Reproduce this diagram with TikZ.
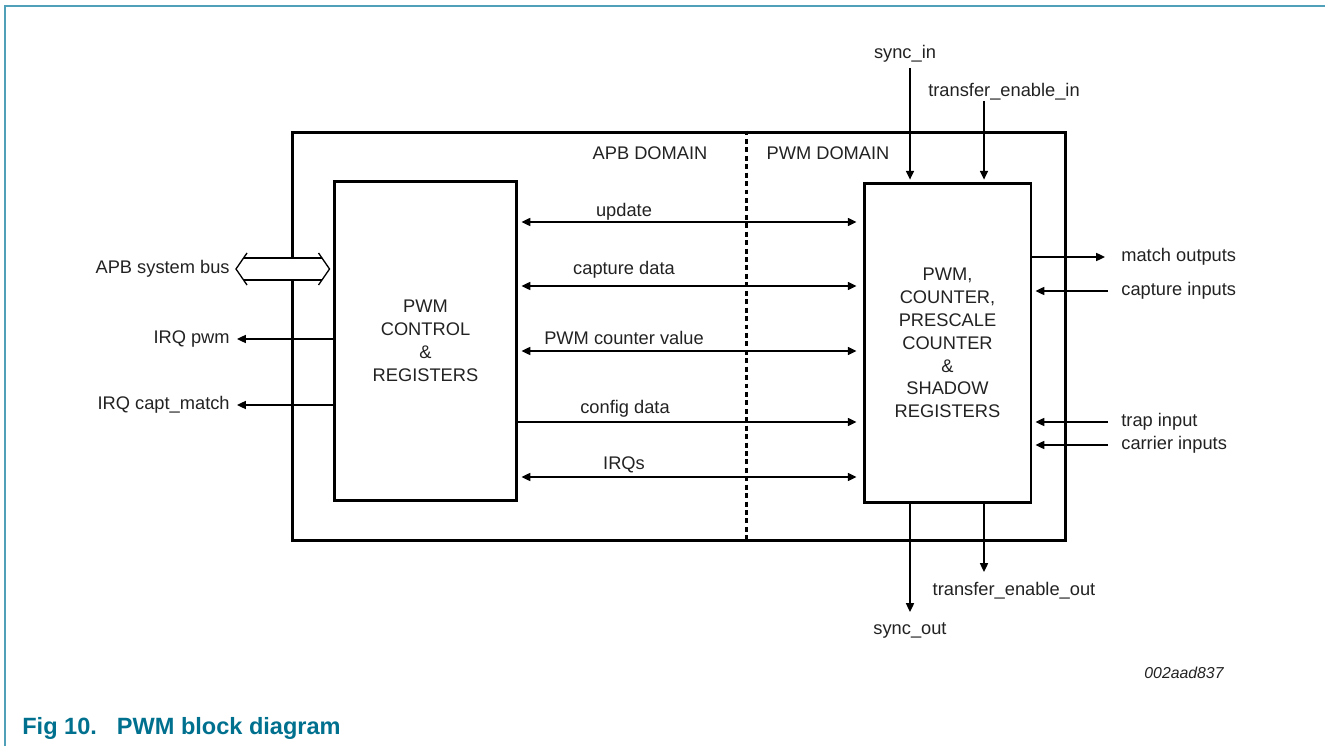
\documentclass[tikz,border=0pt]{standalone}
\usepackage{fontspec}
\setmainfont{Liberation Sans}
\usetikzlibrary{arrows.meta,calc,positioning}

\definecolor{framecol}{HTML}{4FA0B8}
\definecolor{capcol}{HTML}{00708F}
\definecolor{inkcol}{HTML}{222222}

\tikzset{
  blk/.style={draw,line width=1.7pt,align=center,text=inkcol,
    font=\fontsize{10.4}{13}\selectfont},
  lbl/.style={inner sep=0pt,text=inkcol,font=\fontsize{10.4}{12.5}\selectfont},
  sig/.style={line width=0.75pt,-{Triangle[length=5pt,width=4.6pt]}},
  bisig/.style={line width=0.75pt,
    {Triangle[length=5pt,width=4.6pt]}-{Triangle[length=5pt,width=4.6pt]}},
  buswire/.style={line width=0.75pt},
}

\begin{document}
\begin{tikzpicture}[x=0.02cm,y=-0.02cm]
  \useasboundingbox (0,0) rectangle (1325,746);

  % page frame and caption
  \draw[framecol,line width=1pt] (5,746) -- (5,6) -- (1325,6);
  \node[inner sep=0pt,anchor=base west,text=capcol,
    font=\bfseries\fontsize{13.4}{16}\selectfont] (caption) at (22,734)
    {Fig 10.\hspace{0.85em}PWM block diagram};
  \node[inner sep=0pt,text=inkcol,font=\itshape\fontsize{9}{11}\selectfont]
    (figid) at (1184,673) {002aad837};

  % outer box and the two clock domains
  \node[draw,line width=1.7pt,minimum width=15.48cm,minimum height=8.18cm]
    (outer) at (679,336.5) {};
  \draw[line width=1.7pt,dash pattern=on 2.8pt off 2pt]
    (outer.north -| 746,0) -- (outer.south -| 746,0);
  \node[lbl] (apbdom) at (650,153) {APB DOMAIN};
  \node[lbl] (pwmdom) at (828,153) {PWM DOMAIN};

  % blocks
  \node[blk,minimum width=3.66cm,minimum height=6.4cm] (ctrl) at (425.5,341)
    {PWM\\CONTROL\\\&\\REGISTERS};
  \node[blk,minimum width=3.34cm,minimum height=6.4cm] (pwmblk) at (947.5,343)
    {PWM,\\COUNTER,\\PRESCALE\\COUNTER\\\&\\SHADOW\\REGISTERS};

  % lines between the blocks
  \foreach \y/\by/\txt/\nm in {222/216.6/update/upd,
      286/274.6/capture data/cap,
      351/344.6/PWM counter value/cnt,
      477/469.6/IRQs/irqs}{
    \node[lbl,anchor=base] (\nm) at (624,\by) {\txt};
    \draw[bisig,shorten <=1.7pt,shorten >=3.4pt]
      (ctrl.east |- 0,\y) -- (pwmblk.west |- 0,\y);
  }
  \node[lbl,anchor=base] (cfg) at (625,413.6) {config data};
  \draw[sig,shorten >=3.4pt] (ctrl.east |- 0,422) -- (pwmblk.west |- 0,422);

  % APB bus
  \node[lbl,anchor=east] (apbbus) at (230,269) {APB system bus};
  \coordinate (busl) at ($(apbbus.east)+(6,0)$);
  \coordinate (busr) at ($(ctrl.west |- apbbus.east)+(-3,0)$);
  \fill[white] (busl) -- ($(busl)+(7.6,-11)$) -- ($(busr)+(-7.6,-11)$) -- (busr)
    -- ($(busr)+(-7.6,11)$) -- ($(busl)+(7.6,11)$) -- cycle;
  \draw[buswire] ($(busl)+(11,-16)$) -- (busl) -- ($(busl)+(11,16)$);
  \draw[buswire] ($(busr)+(-11,-16)$) -- (busr) -- ($(busr)+(-11,16)$);
  \draw[buswire] ($(busl)+(7.6,-11)$) -- ($(busr)+(-7.6,-11)$);
  \draw[buswire] ($(busl)+(7.6,11)$) -- ($(busr)+(-7.6,11)$);

  % interrupts
  \node[lbl,anchor=east] (irqpwm) at (230,339) {IRQ pwm};
  \node[lbl,anchor=east] (irqcm) at (230,405) {IRQ capt\_match};
  \draw[sig] (ctrl.west |- irqpwm.east) -- ($(irqpwm.east)+(7,0)$);
  \draw[sig] (ctrl.west |- irqcm.east) -- ($(irqcm.east)+(7,0)$);

  % pins on the right
  \node[lbl,anchor=west] (matchout) at (1121,257) {match outputs};
  \node[lbl,anchor=west] (capin) at (1121,291) {capture inputs};
  \node[lbl,anchor=west] (trapin) at (1121,422) {trap input};
  \node[lbl,anchor=west] (carrin) at (1121,445) {carrier inputs};
  \draw[sig] (pwmblk.east |- matchout.west) -- ($(matchout.west)+(-16,0)$);
  \foreach \nm in {capin,trapin,carrin}
    \draw[sig,shorten >=1.7pt] ($(\nm.west)+(-13,0)$) -- (pwmblk.east |- \nm.west);

  % sync and transfer enable
  \node[lbl] (syncin) at (905,54) {sync\_in};
  \node[lbl] (tenin) at (1004,92) {transfer\_enable\_in};
  \coordinate (syncintail) at (910,68);
  \coordinate (tenintail) at (984,101);
  \draw[sig,shorten >=1.1pt] (syncintail) -- (syncintail |- pwmblk.north);
  \draw[sig,shorten >=1.1pt] (tenintail) -- (tenintail |- pwmblk.north);

  \coordinate (syncouthead) at (910,612);
  \coordinate (tenouthead) at (984,572);
  \draw[sig] (syncouthead |- pwmblk.south) -- (syncouthead);
  \draw[sig] (tenouthead |- pwmblk.south) -- (tenouthead);
  \node[lbl] (syncout) at (910,630) {sync\_out};
  \node[lbl] (tenout) at (1014,591) {transfer\_enable\_out};
\end{tikzpicture}
\end{document}
